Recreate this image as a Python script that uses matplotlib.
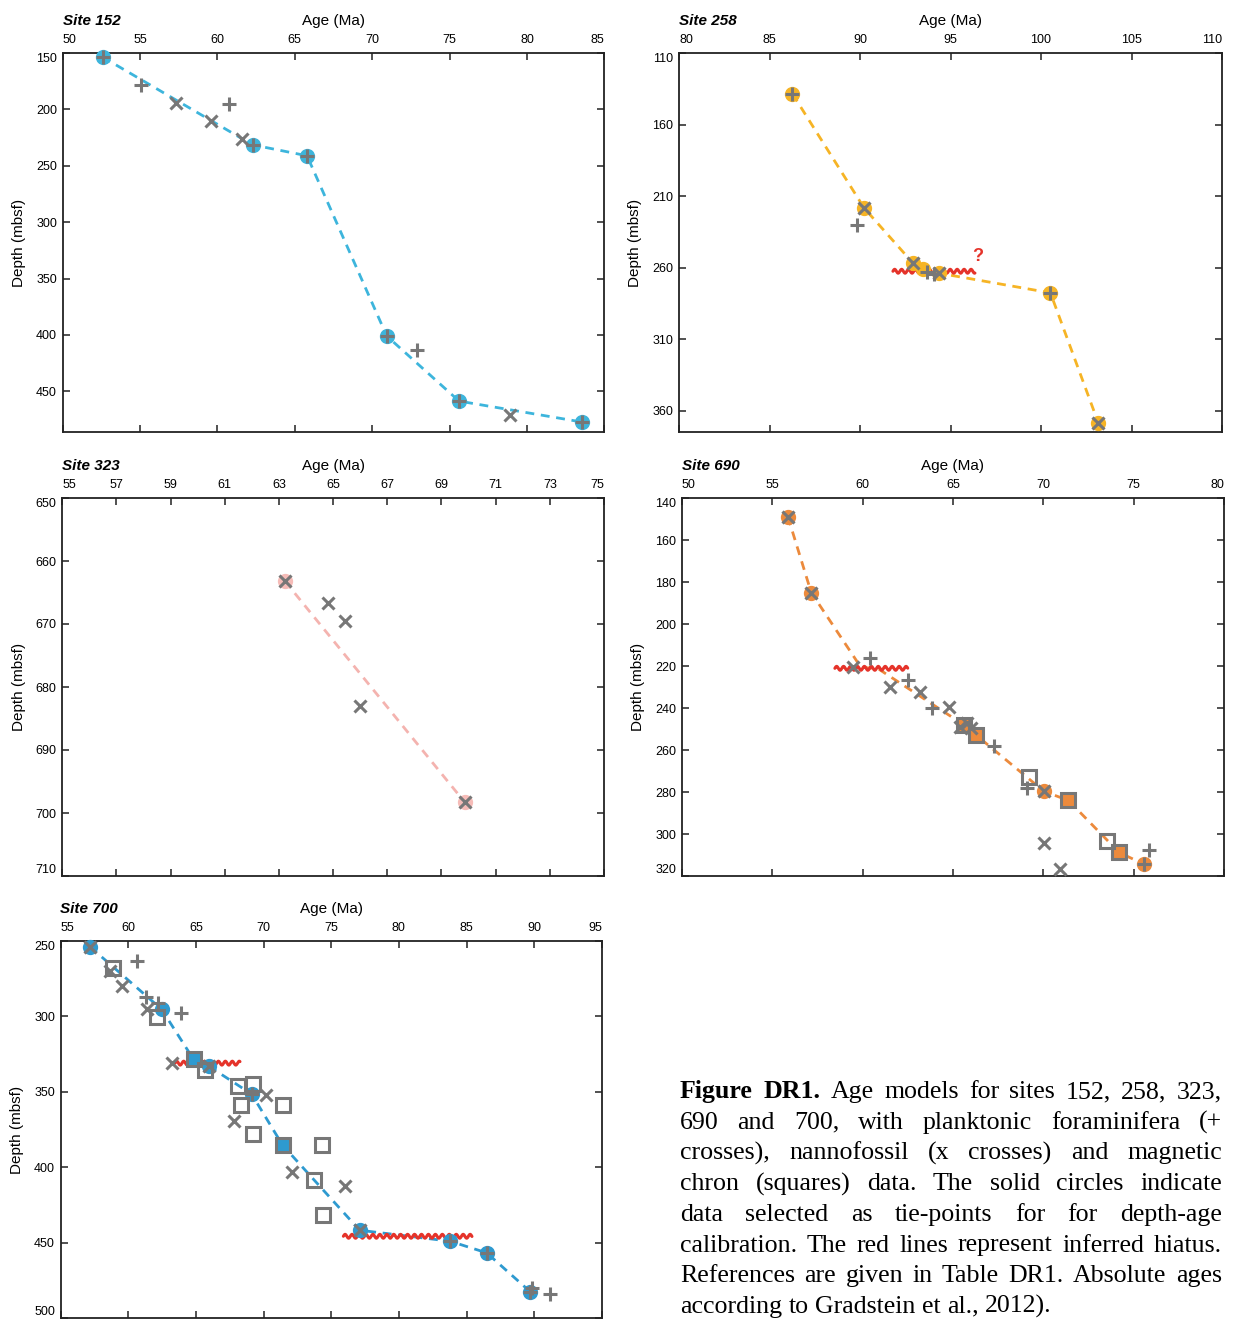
import numpy as np
import matplotlib
matplotlib.use('Agg')
import matplotlib.pyplot as plt
from matplotlib.path import Path
from matplotlib.patheffects import AbstractPathEffect
from matplotlib.transforms import IdentityTransform

plt.rcParams['font.family'] = ['Liberation Sans', 'DejaVu Sans']

W, H = 1235, 1320
fig = plt.figure(figsize=(W / 100, H / 100), dpi=100)

GRAY = '#777777'
RED = '#E5332A'

# ------------------------------------------------------------------ data
# Site 152
s152_tie_age = [52.58, 62.27, 65.79, 70.94, 75.61, 83.57]
s152_tie_depth = [153.6, 231.4, 241.1, 400.9, 458.6, 477.2]
s152_line_age = s152_tie_age
s152_line_depth = s152_tie_depth
s152_plus_age = [52.58, 55.08, 60.74, 62.27, 65.79, 70.94, 72.90, 75.61, 83.57]
s152_plus_depth = [153.6, 178.4, 195.0, 231.4, 241.1, 400.9, 413.3, 458.6, 477.2]
s152_x_age = [57.30, 59.59, 61.58, 78.93]
s152_x_depth = [194.4, 210.4, 226.3, 471.3]
s152_sq_age, s152_sq_depth = [], []
s152_fsq_age, s152_fsq_depth = [], []
s152_hiatus = []

# Site 258
s258_tie_age = [86.27, 90.24, 92.94, 93.50, 94.38, 100.52, 103.16]
s258_tie_depth = [138.6, 218.6, 257.1, 261.3, 264.0, 277.7, 368.4]
s258_line_age = s258_tie_age
s258_line_depth = s258_tie_depth
s258_plus_age = [86.27, 89.83, 93.70, 94.10, 100.52]
s258_plus_depth = [138.6, 230.5, 263.0, 264.5, 277.7]
s258_x_age = [90.24, 92.94, 94.38, 103.16]
s258_x_depth = [218.6, 257.1, 264.0, 368.4]
s258_sq_age, s258_sq_depth = [], []
s258_fsq_age, s258_fsq_depth = [], []
s258_hiatus = [(91.82, 96.35, 262.6)]
s258_query = (96.5, 252.4)

# Site 323
s323_tie_age = [63.22, 69.86]
s323_tie_depth = [663.2, 698.3]
s323_line_age = s323_tie_age
s323_line_depth = s323_tie_depth
s323_plus_age, s323_plus_depth = [], []
s323_x_age = [63.22, 64.80, 65.45, 65.99, 69.86]
s323_x_depth = [663.2, 666.6, 669.6, 683.0, 698.3]
s323_sq_age, s323_sq_depth = [], []
s323_fsq_age, s323_fsq_depth = [], []
s323_hiatus = []

# Site 690
s690_tie_age = [55.87, 57.16, 70.04, 75.60]
s690_tie_depth = [148.9, 185.0, 279.7, 314.5]
s690_line_age = [55.87, 57.16, 59.90, 60.90, 65.60, 66.30, 70.04, 71.39, 74.20, 75.60]
s690_line_depth = [148.9, 185.0, 220.5, 221.5, 248.0, 253.0, 279.7, 284.0, 308.8, 314.5]
s690_plus_age = [60.39, 62.51, 63.85, 67.30, 69.11, 75.87, 75.60]
s690_plus_depth = [216.1, 226.6, 239.9, 258.2, 278.3, 307.4, 314.5]
s690_x_age = [55.87, 57.16, 59.50, 61.50, 63.20, 64.80, 65.40, 65.80, 66.00, 70.04, 70.04, 70.95]
s690_x_depth = [148.9, 185.0, 220.5, 230.2, 232.5, 239.5, 249.0, 247.3, 249.5, 279.7, 304.4, 316.5]
s690_sq_age = [69.22, 73.55]
s690_sq_depth = [272.7, 303.2]
s690_fsq_age = [65.60, 66.30, 71.39, 74.20]
s690_fsq_depth = [248.0, 253.0, 284.0, 308.8]
s690_hiatus = [(58.47, 62.50, 221.1)]

# Site 700
s700_tie_age = [57.18, 62.47, 65.95, 69.12, 77.10, 83.79, 86.49, 89.72]
s700_tie_depth = [253.8, 295.3, 333.0, 351.5, 441.8, 449.1, 456.8, 482.7]
s700_line_age = [57.18, 62.47, 64.83, 65.95, 69.12, 71.41, 77.10, 83.79, 86.49, 89.72]
s700_line_depth = [253.8, 295.3, 328.5, 333.0, 351.5, 385.4, 441.8, 449.1, 456.8, 482.7]
s700_plus_age = [60.67, 61.31, 62.22, 63.88, 69.12, 83.79, 86.49, 89.72, 89.87, 91.19]
s700_plus_depth = [263.1, 287.4, 291.4, 297.6, 351.5, 449.1, 456.8, 482.7, 480.0, 484.2]
s700_x_age = [57.18, 58.66, 59.52, 61.41, 63.21, 65.99, 70.18, 67.81, 72.10, 76.01, 77.10]
s700_x_depth = [253.8, 269.7, 279.9, 295.1, 331.0, 333.0, 352.2, 369.2, 403.5, 412.6, 441.8]
s700_sq_age = [58.85, 62.15, 65.67, 68.13, 69.24, 68.31, 71.41, 69.24, 74.29, 73.72, 74.37]
s700_sq_depth = [268.1, 300.6, 335.6, 346.2, 344.9, 358.8, 358.8, 378.1, 385.4, 408.6, 431.8]
s700_fsq_age = [64.83, 71.41]
s700_fsq_depth = [328.5, 385.4]
s700_hiatus = [(63.46, 68.26, 331.0), (75.90, 85.40, 445.8)]


# ------------------------------------------------------------------ helpers
class Wavy(AbstractPathEffect):
    """Draws a straight path as a wavy (hiatus) line."""

    def __init__(self, wavelength=5.0, amplitude=1.4):
        super().__init__()
        self.wl = wavelength
        self.amp = amplitude

    def draw_path(self, renderer, gc, tpath, affine, rgbFace=None):
        v = affine.transform(tpath.vertices)
        p0, p1 = v[0], v[-1]
        d = p1 - p0
        L = np.hypot(*d)
        if L == 0:
            return
        u = d / L
        nrm = np.array([-u[1], u[0]])
        wl = renderer.points_to_pixels(self.wl)
        amp = renderer.points_to_pixels(self.amp)
        s = np.linspace(0, L, max(int(L / wl * 24), 2))
        off = amp * np.sin(2 * np.pi * s / wl)
        pts = p0 + np.outer(s, u) + np.outer(off, nrm)
        renderer.draw_path(gc, Path(pts), IdentityTransform(), None)


def px_rect(left, top, right, bottom):
    return [left / W, 1 - bottom / H, (right - left) / W, (bottom - top) / H]


def panel(rect, name, color, xlim, xticks, ylim, yticks,
          line_a, line_d, tie_a, tie_d, plus_a, plus_d, x_a, x_d,
          sq_a, sq_d, fsq_a, fsq_d, hiatus, line_color=None):
    ax = fig.add_axes(px_rect(*rect))
    ax.set_xlim(*xlim)
    ax.set_ylim(*ylim)
    ax.set_xticks(xticks)
    ax.set_yticks(yticks)
    ax.tick_params(direction='in', top=True, bottom=True, left=True, right=True,
                   labeltop=True, labelbottom=False, length=5, width=1.1,
                   labelsize=9, color='#222222')
    ax.tick_params(axis='x', pad=5)
    ax.tick_params(axis='y', pad=4)
    for sp in ax.spines.values():
        sp.set_linewidth(1.3)
        sp.set_color('#222222')

    # nudge end labels inward
    xt = ax.xaxis.get_major_ticks()
    for lab in (xt[0].label1, xt[0].label2):
        lab.set_horizontalalignment('left')
    for lab in (xt[-1].label1, xt[-1].label2):
        lab.set_horizontalalignment('right')
    yt = ax.yaxis.get_major_ticks()
    if yticks[0] == ylim[1]:
        for lab in (yt[0].label1, yt[0].label2):
            lab.set_verticalalignment('top')
    if yticks[-1] == ylim[0]:
        for lab in (yt[-1].label1, yt[-1].label2):
            lab.set_verticalalignment('bottom')

    lc = line_color or color
    ax.plot(line_a, line_d, color=lc, lw=2.0, dashes=(3.2, 2.4), zorder=2)
    for a0, a1, dep in hiatus:
        ax.plot([a0, a1], [dep, dep], color=RED, lw=2.2, zorder=3,
                path_effects=[Wavy()], solid_capstyle='round')
    ax.plot(tie_a, tie_d, 'o', ms=11, color=color, mec='none', zorder=4, clip_on=False)
    ax.plot(fsq_a, fsq_d, 's', ms=9.5, mfc=color, mec=GRAY, mew=2.2, zorder=5, clip_on=False)
    ax.plot(sq_a, sq_d, 's', ms=9.5, mfc='none', mec=GRAY, mew=2.2, zorder=5, clip_on=False)
    ax.plot(plus_a, plus_d, '+', ms=10, color=GRAY, mew=2.2, zorder=6, clip_on=False)
    ax.plot(x_a, x_d, 'x', ms=9, color=GRAY, mew=2.2, zorder=6, clip_on=False)

    hpx = rect[3] - rect[1]
    wpx = rect[2] - rect[0]
    ax.text(0.5, 1 + 32 / hpx, 'Age (Ma)', transform=ax.transAxes, ha='center',
            va='center', fontsize=11)
    ax.text(0.0, 1 + 32 / hpx, name, transform=ax.transAxes, ha='left',
            va='center', fontsize=11, fontweight='bold', fontstyle='italic')
    ax.text(-43.5 / wpx, 0.5, 'Depth (mbsf)', transform=ax.transAxes, ha='center',
            va='center', rotation=90, fontsize=11)
    return ax


ax1 = panel((62.6, 53, 604.4, 432), 'Site 152', '#3DB5DC', (50, 85), np.arange(50, 86, 5),
            (486, 150), np.arange(150, 451, 50),
            s152_line_age, s152_line_depth, s152_tie_age, s152_tie_depth,
            s152_plus_age, s152_plus_depth, s152_x_age, s152_x_depth,
            s152_sq_age, s152_sq_depth, s152_fsq_age, s152_fsq_depth, s152_hiatus)

ax2 = panel((679, 53, 1222, 432), 'Site 258', '#F6B425', (80, 110), np.arange(80, 111, 5),
            (375, 110), np.arange(110, 361, 50),
            s258_line_age, s258_line_depth, s258_tie_age, s258_tie_depth,
            s258_plus_age, s258_plus_depth, s258_x_age, s258_x_depth,
            s258_sq_age, s258_sq_depth, s258_fsq_age, s258_fsq_depth, s258_hiatus)
ax2.text(s258_query[0], s258_query[1], '?', color=RED, fontsize=13, fontweight='bold',
         ha='center', va='center', zorder=7)

ax3 = panel((62.3, 498, 604, 876), 'Site 323', '#F6BCB8', (55, 75), np.arange(55, 76, 2),
            (710, 650), np.arange(650, 711, 10),
            s323_line_age, s323_line_depth, s323_tie_age, s323_tie_depth,
            s323_plus_age, s323_plus_depth, s323_x_age, s323_x_depth,
            s323_sq_age, s323_sq_depth, s323_fsq_age, s323_fsq_depth, s323_hiatus,
            line_color='#F4B3AF')

ax4 = panel((681.8, 498, 1224, 876), 'Site 690', '#EC8A3C', (50, 80), np.arange(50, 81, 5),
            (320, 140), np.arange(140, 321, 20),
            s690_line_age, s690_line_depth, s690_tie_age, s690_tie_depth,
            s690_plus_age, s690_plus_depth, s690_x_age, s690_x_depth,
            s690_sq_age, s690_sq_depth, s690_fsq_age, s690_fsq_depth, s690_hiatus)

ax5 = panel((60.5, 941, 601.9, 1318), 'Site 700', '#2E9AD0', (55, 95), np.arange(55, 96, 5),
            (500, 250), np.arange(250, 501, 50),
            s700_line_age, s700_line_depth, s700_tie_age, s700_tie_depth,
            s700_plus_age, s700_plus_depth, s700_x_age, s700_x_depth,
            s700_sq_age, s700_sq_depth, s700_fsq_age, s700_fsq_depth, s700_hiatus)

# ------------------------------------------------------------------ caption
cap_lines = [
    "Figure DR1. Age models for sites 152, 258, 323,",
    "690 and 700, with planktonic foraminifera (+",
    "crosses), nannofossil (x crosses) and magnetic",
    "chron (squares) data. The solid circles indicate",
    "data selected as tie-points for for depth-age",
    "calibration. The red lines represent inferred hiatus.",
    "References are given in Table DR1. Absolute ages",
    "according to Gradstein et al., 2012).",
]
CAP_LEFT, CAP_RIGHT = 680.0, 1222.0
CAP_BASE0, CAP_STEP = 1098.0, 30.7
CAP_FS = 18.6
renderer = fig.canvas.get_renderer()
probe_a = fig.text(0, 0, 'xx', fontsize=CAP_FS, family='Liberation Serif')
probe_b = fig.text(0, 0, 'x x', fontsize=CAP_FS, family='Liberation Serif')
space_w = probe_b.get_window_extent(renderer).width - probe_a.get_window_extent(renderer).width
probe_a.remove()
probe_b.remove()

for i, line in enumerate(cap_lines):
    words = line.split(' ')
    texts = []
    for j, w in enumerate(words):
        bold = (i == 0 and j < 2)
        t = fig.text(0, 0, w, fontsize=CAP_FS, family='Liberation Serif',
                     fontweight='bold' if bold else 'normal',
                     transform=IdentityTransform(), ha='left', va='baseline')
        texts.append(t)
    widths = [t.get_window_extent(renderer).width for t in texts]
    if i == len(cap_lines) - 1:
        gap = space_w
    else:
        gap = (CAP_RIGHT - CAP_LEFT - sum(widths)) / (len(words) - 1)
    x = CAP_LEFT
    yb = H - (CAP_BASE0 + i * CAP_STEP)
    for t, w in zip(texts, widths):
        t.set_position((x, yb))
        x += w + gap

fig.savefig('out.png', dpi=100, facecolor='white')
